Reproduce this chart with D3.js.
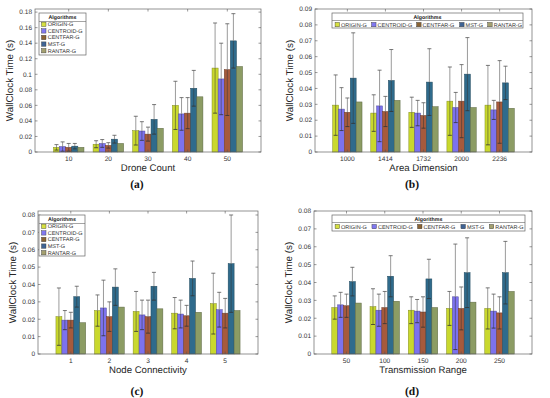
<!DOCTYPE html>
<html><head><meta charset="utf-8">
<script src="https://cdn.jsdelivr.net/npm/d3@7"></script>
<style>body{margin:0;background:#fff}svg{display:block;text-rendering:geometricPrecision}</style>
</head><body><svg id="c" width="550" height="398"></svg>
<script>
const algorithms = ["ORIGIN-G","CENTROID-G","CENTFAR-G","MST-G","RANTAR-G"];

const droneCounts = ["10","20","30","40","50"];
const droneMeans = [
  [0.006,0.007,0.006,0.0075,0.006],
  [0.010,0.011,0.0085,0.0165,0.011],
  [0.0275,0.027,0.023,0.042,0.0305],
  [0.060,0.049,0.050,0.082,0.071],
  [0.108,0.094,0.106,0.143,0.110]];
const droneErrs = [
  [0.0035,0.006,0.005,0.0035,0],
  [0.0045,0.005,0.0035,0.005,0],
  [0.0185,0.012,0.009,0.019,0],
  [0.031,0.021,0.020,0.023,0],
  [0.058,0.046,0.059,0.035,0]];

const areaDims = ["1000","1414","1732","2000","2236"];
const areaMeans = [
  [0.0295,0.027,0.025,0.0465,0.0315],
  [0.0245,0.029,0.0255,0.045,0.0325],
  [0.025,0.0245,0.023,0.044,0.0285],
  [0.032,0.028,0.032,0.049,0.028],
  [0.0295,0.0265,0.0315,0.0435,0.0275]];
const areaErrs = [
  [0.019,0.0135,0.009,0.0285,0],
  [0.0115,0.0225,0.0095,0.0195,0],
  [0.0095,0.008,0.008,0.021,0],
  [0.0215,0.0095,0.023,0.023,0],
  [0.025,0.006,0.026,0.0105,0]];

const connectivity = ["1","2","3","4","5"];
const connMeans = [
  [0.0215,0.0195,0.0195,0.033,0.018],
  [0.025,0.0265,0.0215,0.0385,0.027],
  [0.0245,0.0225,0.0215,0.039,0.026],
  [0.0235,0.023,0.022,0.0435,0.024],
  [0.029,0.0255,0.0235,0.052,0.025]];
const connErrs = [
  [0.0165,0.0055,0.0045,0.006,0],
  [0.009,0.016,0.0085,0.0105,0],
  [0.0115,0.0085,0.0095,0.008,0],
  [0.009,0.008,0.006,0.010,0],
  [0.0175,0.010,0.0085,0.028,0]];

const ranges = ["50","100","150","200","250"];
const rangeMeans = [
  [0.026,0.0275,0.027,0.0405,0.0285],
  [0.0265,0.0245,0.026,0.0435,0.0295],
  [0.0245,0.024,0.0235,0.042,0.026],
  [0.0255,0.032,0.0255,0.0455,0.029],
  [0.0255,0.024,0.023,0.0455,0.035]];
const rangeErrs = [
  [0.0065,0.007,0.0065,0.008,0],
  [0.010,0.009,0.009,0.0115,0],
  [0.0075,0.0065,0.0085,0.011,0],
  [0.0095,0.0295,0.012,0.0195,0],
  [0.0115,0.0095,0.009,0.0175,0]];

const yTicksA = [0,0.02,0.04,0.06,0.08,0.1,0.12,0.14,0.16,0.18];
const yTicksB = [0,0.01,0.02,0.03,0.04,0.05,0.06,0.07,0.08,0.09];
const yTicksCD = [0,0.01,0.02,0.03,0.04,0.05,0.06,0.07,0.08];

const barColors = ["#c9d82e","#7c72ee","#a65a3c","#2f6b8c","#8c9c64"];
const legendColors = ["#d6e040","#8078f0","#8a6434","#3f6394","#a4a070"];
const hLegendSlots = [0.016,0.207,0.443,0.668,0.815];

const panels = [
  {cats:droneCounts, means:droneMeans, errs:droneErrs, xLabel:"Drone Count", tag:"(a)", yMax:0.184, yTicks:yTicksA,
   box:[35,9,261,152], tagX:137, tagY:188, legend:"v", lg:[39,13,86,55]},
  {cats:areaDims, means:areaMeans, errs:areaErrs, xLabel:"Area Dimension", tag:"(b)", yMax:0.09, yTicks:yTicksB,
   box:[315,9,532,152], tagX:412, tagY:188, legend:"h", lg:[332,13,523,28]},
  {cats:connectivity, means:connMeans, errs:connErrs, xLabel:"Node Connectivity", tag:"(c)", yMax:0.0823, yTicks:yTicksCD,
   box:[38,211,258,354], tagX:137, tagY:395, legend:"v", lg:[39,215,85,256]},
  {cats:ranges, means:rangeMeans, errs:rangeErrs, xLabel:"Transmission Range", tag:"(d)", yMax:0.08, yTicks:yTicksCD,
   box:[314,211,532,354], tagX:412, tagY:395, legend:"h", lg:[332,215,525,231]}
];

const svg = d3.select("#c");
const FONT = "'Liberation Sans', Arial, sans-serif";
const fmt = v => String(+v.toFixed(3));

panels.forEach(p => {
  const [L,T,R,B] = p.box;
  const g = svg.append("g");
  const x = d3.scaleLinear().domain([0.15,5.85]).range([L,R]);
  const y = d3.scaleLinear().domain([0,p.yMax]).range([B,T]);
  const groupW = 0.77, bw = groupW/algorithms.length;

  p.means.forEach((row,i) => {
    const cx = i+1;
    row.forEach((m,j) => {
      const x0 = cx - groupW/2 + j*bw;
      g.append("rect")
        .attr("x", x(x0)).attr("width", x(x0+bw)-x(x0))
        .attr("y", y(m)).attr("height", y(0)-y(m))
        .attr("fill", barColors[j])
        .attr("stroke", d3.color(barColors[j]).darker(1.2)).attr("stroke-width",0.5);
    });
  });
  p.means.forEach((row,i) => {
    const cx = i+1;
    row.forEach((m,j) => {
      const e = p.errs[i][j];
      if (!e) return;
      const xc = x(cx - groupW/2 + (j+0.5)*bw);
      const lo = Math.max(0, m-e), hi = m+e;
      g.append("line").attr("x1",xc).attr("x2",xc).attr("y1",y(m)).attr("y2",y(hi))
        .attr("stroke","#8f8f8f").attr("stroke-width",0.9);
      g.append("line").attr("x1",xc).attr("x2",xc).attr("y1",y(lo)).attr("y2",y(m))
        .attr("stroke","#333").attr("stroke-opacity",0.55).attr("stroke-width",0.9);
      [lo,hi].forEach((v,k) => {
        g.append("line").attr("x1",xc-2).attr("x2",xc+2).attr("y1",y(v)).attr("y2",y(v))
          .attr("stroke", k ? "#555" : "#333").attr("stroke-width",0.8);
      });
    });
  });

  g.append("rect").attr("x",L).attr("y",T).attr("width",R-L).attr("height",B-T)
    .attr("fill","none").attr("stroke","#666").attr("stroke-width",0.7);

  p.yTicks.forEach(t => {
    const yy = y(t);
    g.append("line").attr("x1",L).attr("x2",L+2.5).attr("y1",yy).attr("y2",yy).attr("stroke","#555").attr("stroke-width",0.6);
    g.append("line").attr("x1",R).attr("x2",R-2.5).attr("y1",yy).attr("y2",yy).attr("stroke","#555").attr("stroke-width",0.6);
    g.append("text").attr("x",L-3).attr("y",yy).attr("dy","0.35em").attr("text-anchor","end")
      .attr("font-family",FONT).attr("font-size",6.5).attr("fill","#333").text(fmt(t));
  });
  p.cats.forEach((c,i) => {
    const xx = x(i+1);
    g.append("line").attr("x1",xx).attr("x2",xx).attr("y1",B).attr("y2",B-2.5).attr("stroke","#555").attr("stroke-width",0.6);
    g.append("line").attr("x1",xx).attr("x2",xx).attr("y1",T).attr("y2",T+2.5).attr("stroke","#555").attr("stroke-width",0.6);
    g.append("text").attr("x",xx).attr("y",B+8.5).attr("text-anchor","middle")
      .attr("font-family",FONT).attr("font-size",6.6).attr("fill","#333").text(c);
  });

  g.append("text").attr("x",(L+R)/2).attr("y",B+19).attr("text-anchor","middle")
    .attr("font-family",FONT).attr("font-size",9.6).attr("fill","#262626").text(p.xLabel);
  g.append("text").attr("transform",`translate(${L-22},${(T+B)/2}) rotate(-90)`).attr("text-anchor","middle")
    .attr("font-family",FONT).attr("font-size",9.8).attr("fill","#262626").text("WallClock Time (s)");
  g.append("text").attr("x",p.tagX).attr("y",p.tagY).attr("text-anchor","middle")
    .attr("font-family","'Liberation Serif','DejaVu Serif',serif").attr("font-weight","bold")
    .attr("font-size",11.5).attr("fill","#111").text(p.tag);

  const [lx0,ly0,lx1,ly1] = p.lg;
  const lg = g.append("g");
  lg.append("rect").attr("x",lx0).attr("y",ly0).attr("width",lx1-lx0).attr("height",ly1-ly0)
    .attr("fill","#fff").attr("stroke","#666").attr("stroke-width",0.7);
  const fs = 5.5;
  if (p.legend === "v") {
    lg.append("text").attr("x",(lx0+lx1)/2).attr("y",ly0+6.3).attr("text-anchor","middle")
      .attr("font-family",FONT).attr("font-size",5.3).attr("font-weight","bold").attr("fill","#222").text("Algorithms");
    lg.append("line").attr("x1",lx0).attr("x2",lx1).attr("y1",ly0+8.5).attr("y2",ly0+8.5).attr("stroke","#666").attr("stroke-width",0.6);
    algorithms.forEach((a,j) => {
      const yy = ly0 + 11.3 + j*6.6;
      lg.append("rect").attr("x",lx0+2.5).attr("y",yy-2.2).attr("width",4.5).attr("height",4.4)
        .attr("fill",legendColors[j]).attr("stroke","#333").attr("stroke-width",0.4);
      lg.append("text").attr("x",lx0+8.7).attr("y",yy).attr("dy","0.35em")
        .attr("font-family",FONT).attr("font-size",fs).attr("fill","#333").text(a);
    });
  } else {
    lg.append("text").attr("x",(lx0+lx1)/2).attr("y",ly0+5.9).attr("text-anchor","middle")
      .attr("font-family",FONT).attr("font-size",5.3).attr("font-weight","bold").attr("fill","#222").text("Algorithms");
    lg.append("line").attr("x1",lx0).attr("x2",lx1).attr("y1",ly0+7.5).attr("y2",ly0+7.5).attr("stroke","#666").attr("stroke-width",0.6);
    const yy = ly0 + 11.6;
    algorithms.forEach((a,j) => {
      const cx = lx0 + hLegendSlots[j]*(lx1-lx0);
      lg.append("rect").attr("x",cx).attr("y",yy-2.2).attr("width",4.5).attr("height",4.4)
        .attr("fill",legendColors[j]).attr("stroke","#333").attr("stroke-width",0.4);
      lg.append("text").attr("x",cx+6).attr("y",yy).attr("dy","0.35em")
        .attr("font-family",FONT).attr("font-size",fs).attr("fill","#333").text(a);
    });
  }
});
</script></body></html>
